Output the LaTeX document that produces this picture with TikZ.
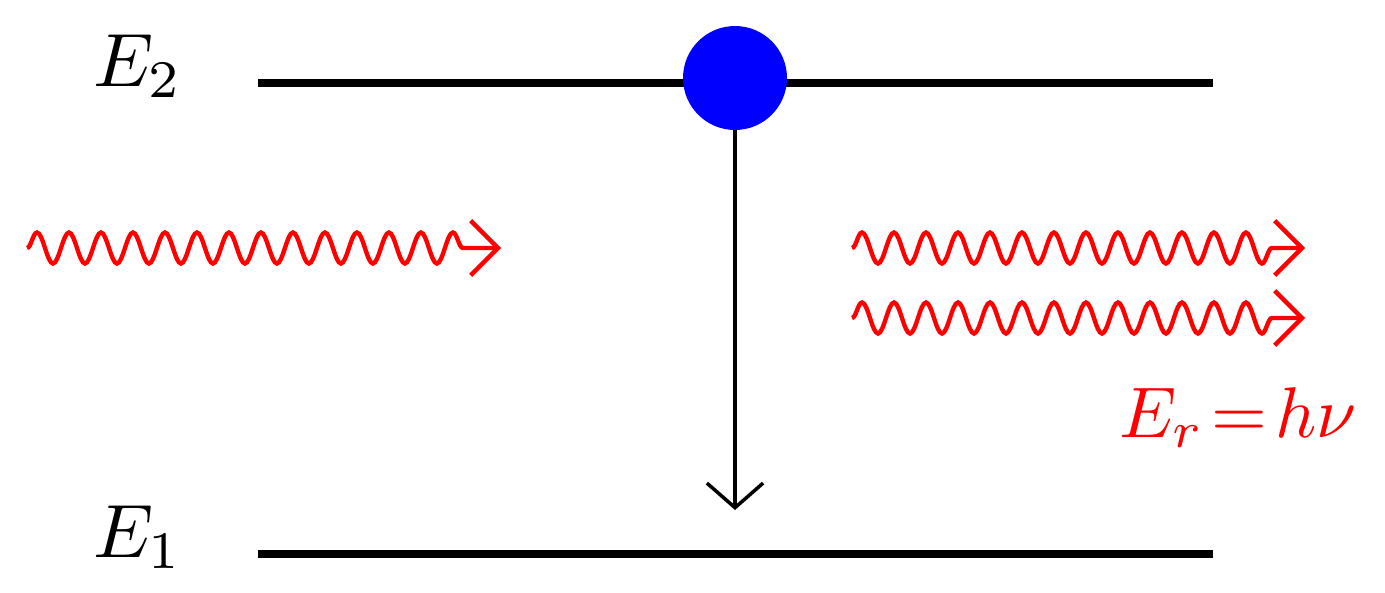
\documentclass[tikz,border=0pt]{standalone}
\usetikzlibrary{arrows.meta,decorations.pathmorphing}
\begin{document}
\begin{tikzpicture}[x=0.02cm,y=-0.02cm,
  level/.style={line width=4pt,black},
  photon/.style={red,line width=2.5pt,decorate,
    decoration={snake,amplitude=0.31cm,segment length=0.64cm,post length=0.56cm},
    -{Straight Barb[length=15.5pt,width=31pt,line width=2.5pt]}},
  lbl/.style={scale=4.3,anchor=base,inner sep=0pt}]
\useasboundingbox (0,0) rectangle (1385,592);
% levels
\coordinate (e2l) at (258,83);
\coordinate (e2r) at (1213,83);
\coordinate (e1l) at (258,554);
\coordinate (e1r) at (1213,554);
\draw[level] (e2l) -- (e2r);
\draw[level] (e1l) -- (e1r);
\node[lbl] (E2) at (138,86) {$E_2$};
\node[lbl] (E1) at (138,557) {$E_1$};
% atom
\node[circle,fill=blue,minimum size=2.08cm,inner sep=0pt] (atom) at (735,78) {};
\coordinate (down) at (735,510);
\draw[line width=2pt,-{Straight Barb[length=14pt,width=32pt,line width=2pt]}] (atom.south) -- (down);
% photons
\coordinate (p0s) at (27,248);
\coordinate (p0e) at (501,248);
\coordinate (p1s) at (852,248);
\coordinate (p1e) at (1305,248);
\coordinate (p2s) at (852,318);
\coordinate (p2e) at (1305,318);
\draw[photon] (p0s) -- (p0e);
\draw[photon] (p1s) -- (p1e);
\draw[photon] (p2s) -- (p2e);
\node[lbl,red,scale=0.95] (Er) at (1238,437) {$E_r\mkern-3mu=\mkern-3mu h\nu$};
\end{tikzpicture}
\end{document}
